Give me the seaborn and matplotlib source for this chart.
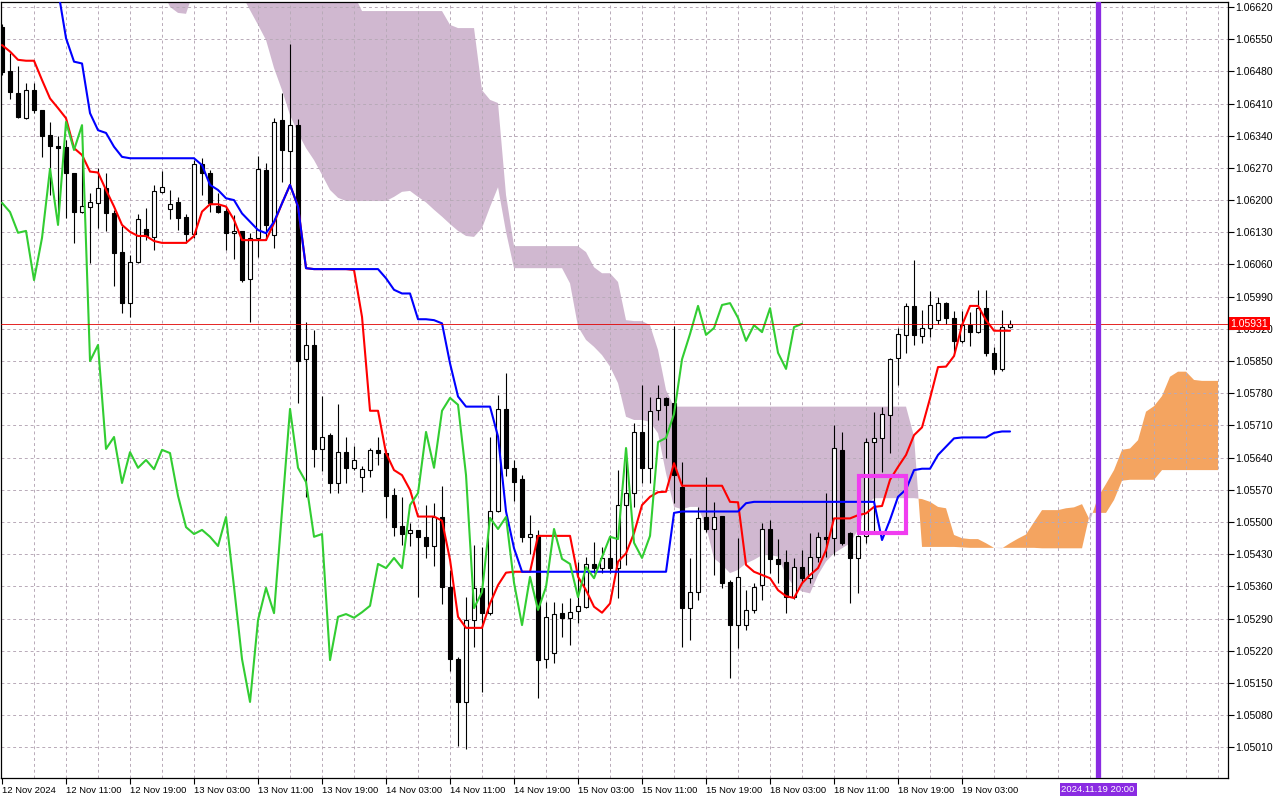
import numpy as np
import matplotlib
matplotlib.use("Agg")
import matplotlib.pyplot as plt
import matplotlib.transforms as mtransforms
from matplotlib.patches import Rectangle
import seaborn as sns

# EURUSD H1 candles, bar 0 = first bar on screen
open_ = [1.06576, 1.06481, 1.06433, 1.06378, 1.06439, 1.06396, 1.06341, 1.06318, 1.06315, 1.06259,
         1.06174, 1.06185, 1.06194, 1.06226, 1.06172, 1.06087, 1.05976, 1.06065, 1.06137, 1.06120,
         1.06218, 1.06181, 1.06196, 1.06163, 1.06126, 1.06279, 1.06259, 1.06187, 1.06176, 1.06129,
         1.06133, 1.06029, 1.06118, 1.06265, 1.06124, 1.06374, 1.06307, 1.06363, 1.05854, 1.05885,
         1.05659, 1.05689, 1.05585, 1.05652, 1.05618, 1.05598, 1.05613, 1.05657, 1.05650, 1.05559,
         1.05492, 1.05476, 1.05483, 1.05468, 1.05448, 1.05511, 1.05359, 1.05202, 1.05109, 1.05287,
         1.05357, 1.05302, 1.05524, 1.05746, 1.05618, 1.05594, 1.05468, 1.05472, 1.05202, 1.05215,
         1.05302, 1.05292, 1.05307, 1.05315, 1.05409, 1.05400, 1.05422, 1.05400, 1.05537, 1.05563,
         1.05696, 1.05618, 1.05744, 1.05770, 1.05759, 1.05576, 1.05313, 1.05348, 1.05511, 1.05485,
         1.05513, 1.05370, 1.05276, 1.05276, 1.05309, 1.05363, 1.05485, 1.05420, 1.05413, 1.05337,
         1.05402, 1.05378, 1.05424, 1.05468, 1.05465, 1.05657, 1.05476, 1.05422, 1.05470, 1.05674,
         1.05683, 1.05733, 1.05857, 1.05907, 1.05970, 1.05904, 1.05922, 1.05939, 1.05976, 1.05944,
         1.05894, 1.05928, 1.05913, 1.05965, 1.05868, 1.05833, 1.05924]
high = [1.06583, 1.06520, 1.06491, 1.06455, 1.06455, 1.06396, 1.06370, 1.06339, 1.06331, 1.06259,
        1.06291, 1.06215, 1.06270, 1.06259, 1.06178, 1.06144, 1.06081, 1.06170, 1.06183, 1.06233,
        1.06263, 1.06222, 1.06207, 1.06170, 1.06287, 1.06291, 1.06265, 1.06215, 1.06185, 1.06168,
        1.06133, 1.06129, 1.06296, 1.06281, 1.06378, 1.06433, 1.06539, 1.06376, 1.05935, 1.05918,
        1.05774, 1.05694, 1.05757, 1.05685, 1.05665, 1.05622, 1.05661, 1.05685, 1.05657, 1.05574,
        1.05554, 1.05498, 1.05483, 1.05537, 1.05542, 1.05578, 1.05396, 1.05207, 1.05337, 1.05450,
        1.05446, 1.05685, 1.05776, 1.05824, 1.05635, 1.05602, 1.05515, 1.05483, 1.05326, 1.05326,
        1.05324, 1.05335, 1.05413, 1.05424, 1.05457, 1.05446, 1.05472, 1.05613, 1.05661, 1.05715,
        1.05798, 1.05772, 1.05798, 1.05772, 1.05926, 1.05631, 1.05422, 1.05533, 1.05598, 1.05544,
        1.05513, 1.05374, 1.05465, 1.05352, 1.05368, 1.05498, 1.05505, 1.05463, 1.05439, 1.05422,
        1.05439, 1.05476, 1.05478, 1.05563, 1.05711, 1.05696, 1.05478, 1.05472, 1.05683, 1.05739,
        1.05750, 1.05857, 1.05922, 1.05976, 1.06070, 1.05961, 1.06002, 1.05989, 1.05978, 1.05959,
        1.05959, 1.05957, 1.06005, 1.06005, 1.05881, 1.05961, 1.05939]
low = [1.06472, 1.06420, 1.06378, 1.06376, 1.06389, 1.06294, 1.06211, 1.06172, 1.06161, 1.06107,
       1.06172, 1.06063, 1.06139, 1.06133, 1.06013, 1.05955, 1.05946, 1.06063, 1.06113, 1.06092,
       1.06215, 1.06159, 1.06135, 1.06107, 1.06118, 1.06211, 1.06174, 1.06172, 1.06092, 1.06072,
       1.06022, 1.05935, 1.06076, 1.06113, 1.06096, 1.06239, 1.06233, 1.05759, 1.05554, 1.05620,
       1.05611, 1.05563, 1.05563, 1.05585, 1.05613, 1.05565, 1.05598, 1.05624, 1.05509, 1.05470,
       1.05450, 1.05448, 1.05337, 1.05422, 1.05405, 1.05322, 1.05176, 1.05013, 1.05007, 1.05228,
       1.05131, 1.05298, 1.05522, 1.05600, 1.05546, 1.05457, 1.05431, 1.05117, 1.05183, 1.05194,
       1.05250, 1.05233, 1.05281, 1.05313, 1.05389, 1.05389, 1.05389, 1.05335, 1.05407, 1.05533,
       1.05585, 1.05585, 1.05722, 1.05639, 1.05542, 1.05228, 1.05244, 1.05331, 1.05478, 1.05385,
       1.05357, 1.05161, 1.05226, 1.05265, 1.05302, 1.05331, 1.05389, 1.05368, 1.05302, 1.05333,
       1.05368, 1.05368, 1.05413, 1.05424, 1.05428, 1.05450, 1.05324, 1.05346, 1.05455, 1.05478,
       1.05609, 1.05650, 1.05798, 1.05868, 1.05885, 1.05889, 1.05902, 1.05931, 1.05931, 1.05870,
       1.05889, 1.05883, 1.05911, 1.05861, 1.05822, 1.05828, 1.05922]
close = [1.06478, 1.06435, 1.06381, 1.06439, 1.06396, 1.06339, 1.06318, 1.06313, 1.06259, 1.06174,
         1.06187, 1.06196, 1.06226, 1.06172, 1.06085, 1.05976, 1.06065, 1.06159, 1.06122, 1.06220,
         1.06229, 1.06192, 1.06161, 1.06126, 1.06279, 1.06259, 1.06194, 1.06174, 1.06129, 1.06133,
         1.06026, 1.06118, 1.06268, 1.06146, 1.06370, 1.06309, 1.06363, 1.05850, 1.05885, 1.05659,
         1.05685, 1.05585, 1.05652, 1.05618, 1.05635, 1.05615, 1.05657, 1.05650, 1.05557, 1.05489,
         1.05474, 1.05483, 1.05468, 1.05448, 1.05511, 1.05359, 1.05202, 1.05109, 1.05287, 1.05357,
         1.05302, 1.05524, 1.05746, 1.05618, 1.05587, 1.05468, 1.05474, 1.05200, 1.05294, 1.05300,
         1.05292, 1.05304, 1.05318, 1.05409, 1.05400, 1.05422, 1.05400, 1.05537, 1.05563, 1.05696,
         1.05618, 1.05742, 1.05770, 1.05755, 1.05602, 1.05313, 1.05348, 1.05509, 1.05485, 1.05511,
         1.05368, 1.05276, 1.05381, 1.05309, 1.05359, 1.05485, 1.05420, 1.05409, 1.05337, 1.05402,
         1.05378, 1.05424, 1.05468, 1.05463, 1.05661, 1.05455, 1.05422, 1.05470, 1.05674, 1.05683,
         1.05735, 1.05854, 1.05909, 1.05970, 1.05907, 1.05922, 1.05972, 1.05976, 1.05944, 1.05894,
         1.05928, 1.05913, 1.05965, 1.05868, 1.05833, 1.05924, 1.05931]

# Ichimoku lines
tenkan = [1.06537, 1.06523, 1.06505, 1.06503, 1.06503, 1.06461, 1.06421, 1.06400, 1.06378, 1.06313,
          1.06298, 1.06262, 1.06260, 1.06222, 1.06186, 1.06146, 1.06131, 1.06122, 1.06122, 1.06111,
          1.06107, 1.06107, 1.06107, 1.06107, 1.06122, 1.06175, 1.06191, 1.06191, 1.06186, 1.06157,
          1.06113, 1.06113, 1.06113, 1.06113, 1.06150, 1.06193, 1.06233, 1.06186, 1.06052, 1.06050,
          1.06050, 1.06050, 1.06050, 1.06050, 1.06048, 1.05946, 1.05742, 1.05742, 1.05650, 1.05613,
          1.05602, 1.05570, 1.05512, 1.05512, 1.05512, 1.05503, 1.05418, 1.05294, 1.05270, 1.05270,
          1.05270, 1.05323, 1.05363, 1.05390, 1.05392, 1.05392, 1.05392, 1.05470, 1.05470, 1.05470,
          1.05470, 1.05470, 1.05381, 1.05352, 1.05316, 1.05303, 1.05323, 1.05414, 1.05432, 1.05476,
          1.05537, 1.05555, 1.05565, 1.05566, 1.05628, 1.05579, 1.05579, 1.05579, 1.05579, 1.05579,
          1.05579, 1.05544, 1.05543, 1.05407, 1.05392, 1.05385, 1.05378, 1.05352, 1.05339, 1.05335,
          1.05367, 1.05385, 1.05400, 1.05439, 1.05508, 1.05508, 1.05508, 1.05515, 1.05519, 1.05533,
          1.05535, 1.05592, 1.05620, 1.05646, 1.05689, 1.05706, 1.05769, 1.05837, 1.05838, 1.05861,
          1.05928, 1.05970, 1.05970, 1.05939, 1.05916, 1.05916, 1.05916]
kijun_start = 7
kijun = [1.06657, 1.06552, 1.06501, 1.06497, 1.06389, 1.06352, 1.06346, 1.06316, 1.06294, 1.06291,
         1.06291, 1.06291, 1.06291, 1.06291, 1.06291, 1.06291, 1.06291, 1.06291, 1.06276, 1.06233,
         1.06222, 1.06204, 1.06200, 1.06171, 1.06153, 1.06135, 1.06128, 1.06153, 1.06193, 1.06233,
         1.06186, 1.06052, 1.06050, 1.06050, 1.06050, 1.06050, 1.06050, 1.06050, 1.06050, 1.06050,
         1.06050, 1.06030, 1.06005, 1.05997, 1.05997, 1.05941, 1.05941, 1.05939, 1.05932, 1.05845,
         1.05773, 1.05751, 1.05751, 1.05751, 1.05751, 1.05686, 1.05523, 1.05443, 1.05392, 1.05392,
         1.05392, 1.05392, 1.05392, 1.05392, 1.05392, 1.05392, 1.05392, 1.05392, 1.05392, 1.05392,
         1.05392, 1.05392, 1.05392, 1.05392, 1.05392, 1.05392, 1.05392, 1.05520, 1.05523, 1.05523,
         1.05523, 1.05523, 1.05523, 1.05523, 1.05523, 1.05523, 1.05541, 1.05544, 1.05544, 1.05544,
         1.05544, 1.05544, 1.05544, 1.05544, 1.05544, 1.05544, 1.05544, 1.05544, 1.05544, 1.05544,
         1.05544, 1.05544, 1.05544, 1.05461, 1.05505, 1.05555, 1.05571, 1.05613, 1.05616, 1.05616,
         1.05646, 1.05664, 1.05682, 1.05684, 1.05684, 1.05684, 1.05684, 1.05694, 1.05697, 1.05697]
chikou_shift = 26

# Senkou spans (already shifted 26 bars forward), from bar 20 to bar 152
span_start = 20
span_a = [1.06657, 1.06620, 1.06607, 1.06605, 1.06657, 1.06678, 1.06678, 1.06678, 1.06678, 1.06678,
          1.06646, 1.06613, 1.06581, 1.06548, 1.06487, 1.06439, 1.06385, 1.06346, 1.06313, 1.06287,
          1.06255, 1.06222, 1.06205, 1.06198, 1.06198, 1.06198, 1.06198, 1.06198, 1.06198, 1.06207,
          1.06218, 1.06220, 1.06207, 1.06195, 1.06179, 1.06164, 1.06148, 1.06133, 1.06122, 1.06120,
          1.06139, 1.06185, 1.06228, 1.06131, 1.06052, 1.06052, 1.06052, 1.06052, 1.06052, 1.06052,
          1.06052, 1.06019, 1.05925, 1.05896, 1.05881, 1.05863, 1.05838, 1.05802, 1.05729, 1.05722,
          1.05722, 1.05718, 1.05693, 1.05606, 1.05533, 1.05528, 1.05533, 1.05533, 1.05490, 1.05421,
          1.05407, 1.05389, 1.05396, 1.05410, 1.05418, 1.05428, 1.05428, 1.05425, 1.05385, 1.05360,
          1.05349, 1.05345, 1.05385, 1.05414, 1.05432, 1.05443, 1.05454, 1.05483, 1.05537, 1.05552,
          1.05552, 1.05552, 1.05552, 1.05552, 1.05552, 1.05550, 1.05544, 1.05533, 1.05530, 1.05472,
          1.05465, 1.05463, 1.05463, 1.05454, 1.05444, 1.05443, 1.05454, 1.05464, 1.05473, 1.05500,
          1.05526, 1.05526, 1.05526, 1.05530, 1.05532, 1.05539, 1.05503, 1.05554, 1.05583, 1.05613,
          1.05657, 1.05660, 1.05678, 1.05740, 1.05752, 1.05774, 1.05816, 1.05827, 1.05827, 1.05809,
          1.05807, 1.05807, 1.05807]
span_b = [1.06722, 1.06722, 1.06722, 1.06722, 1.06722, 1.06722, 1.06722, 1.06722, 1.06722, 1.06722,
          1.06722, 1.06722, 1.06722, 1.06722, 1.06722, 1.06722, 1.06722, 1.06722, 1.06722, 1.06722,
          1.06722, 1.06722, 1.06722, 1.06722, 1.06646, 1.06611, 1.06611, 1.06611, 1.06611, 1.06611,
          1.06611, 1.06611, 1.06611, 1.06611, 1.06611, 1.06611, 1.06581, 1.06574, 1.06574, 1.06574,
          1.06439, 1.06418, 1.06411, 1.06211, 1.06100, 1.06100, 1.06100, 1.06100, 1.06100, 1.06100,
          1.06100, 1.06100, 1.06100, 1.06087, 1.06054, 1.06041, 1.06041, 1.06022, 1.05939, 1.05937,
          1.05937, 1.05928, 1.05874, 1.05787, 1.05751, 1.05751, 1.05751, 1.05751, 1.05751, 1.05751,
          1.05751, 1.05751, 1.05751, 1.05751, 1.05751, 1.05751, 1.05751, 1.05751, 1.05751, 1.05751,
          1.05751, 1.05751, 1.05751, 1.05751, 1.05751, 1.05751, 1.05751, 1.05751, 1.05751, 1.05751,
          1.05751, 1.05751, 1.05751, 1.05751, 1.05686, 1.05446, 1.05446, 1.05446, 1.05446, 1.05446,
          1.05445, 1.05444, 1.05444, 1.05444, 1.05444, 1.05444, 1.05444, 1.05444, 1.05444, 1.05444,
          1.05443, 1.05443, 1.05443, 1.05443, 1.05443, 1.05443, 1.05520, 1.05520, 1.05520, 1.05548,
          1.05590, 1.05592, 1.05592, 1.05592, 1.05592, 1.05613, 1.05613, 1.05613, 1.05613, 1.05613,
          1.05613, 1.05613, 1.05613]

x_tick_bars = [0, 8, 16, 24, 32, 40, 48, 56, 64, 72, 80, 88, 96, 104, 112, 120]
x_tick_labels = ["12 Nov 2024", "12 Nov 11:00", "12 Nov 19:00", "13 Nov 03:00", "13 Nov 11:00",
                 "13 Nov 19:00", "14 Nov 03:00", "14 Nov 11:00", "14 Nov 19:00", "15 Nov 03:00",
                 "15 Nov 11:00", "15 Nov 19:00", "18 Nov 03:00", "18 Nov 11:00", "18 Nov 19:00",
                 "19 Nov 03:00"]
y_ticks = [1.05010, 1.05080, 1.05150, 1.05220, 1.05290, 1.05360, 1.05430, 1.05500, 1.05570,
           1.05640, 1.05710, 1.05780, 1.05850, 1.05920, 1.05990, 1.06060, 1.06130, 1.06200,
           1.06270, 1.06340, 1.06410, 1.06480, 1.06550, 1.06620]
bid_price = 1.05931
marker_bar = 137
marker_label = "2024.11.19 20:00"
box_bars = (107.06, 113.0)
box_prices = (1.05477, 1.05600)

sns.set_theme(style="white")
plt.rcParams["font.family"] = ["Liberation Sans", "DejaVu Sans"]

fig = plt.figure(figsize=(12.8, 8), dpi=100)
ax = fig.add_axes([0.0008, 0.0275, 0.9586, 0.97])

n = len(close)
bars = np.arange(n)
o = np.array(open_)
c = np.array(close)
h = np.array(high)
l = np.array(low)

# cloud
sx = np.arange(span_start, span_start + len(span_a))
sa = np.array(span_a)
sb = np.array(span_b)
ax.fill_between(sx, sa, sb, where=sa <= sb, interpolate=True, color="#D0B8D0", lw=0, zorder=1)
ax.fill_between(sx, sa, sb, where=sa >= sb, interpolate=True, color="#F4A460", lw=0, zorder=1)

# grid
for t in y_ticks:
    ax.axhline(t, color="#B8AAB8", lw=0.7, ls=(0, (3, 3)), zorder=1.5)
for v in range(4, 153, 4):
    ax.axvline(v, color="#B8AAB8", lw=0.7, ls=(0, (3, 3)), zorder=1.5)

# candles
ax.vlines(bars, l, h, color="black", lw=0.8, zorder=3)
up = c >= o
ax.bar(bars[up], (c - o)[up], bottom=o[up], width=0.56, color="white",
       edgecolor="black", linewidth=0.8, zorder=4)
ax.bar(bars[~up], (o - c)[~up], bottom=c[~up], width=0.56, color="black",
       edgecolor="black", linewidth=0.8, zorder=4)

# ichimoku lines
sns.lineplot(x=bars, y=tenkan, color="#FF0000", linewidth=1.5, ax=ax, zorder=5)
kx = np.arange(kijun_start, kijun_start + len(kijun))
sns.lineplot(x=kx, y=kijun, color="#0000FF", linewidth=1.5, ax=ax, zorder=5)
sns.lineplot(x=bars[chikou_shift:] - chikou_shift, y=c[chikou_shift:], color="#32CD32",
             linewidth=1.5, ax=ax, zorder=5)

# bid line, marker line and box
ax.axhline(bid_price, color="#E00000", lw=0.6, zorder=5)
ax.axvline(marker_bar, color="#8A2BE2", lw=3.8, zorder=6)
ax.add_patch(Rectangle((box_bars[0], box_prices[0]), box_bars[1] - box_bars[0],
                       box_prices[1] - box_prices[0], fill=False, edgecolor="#F03CF0",
                       linewidth=3, zorder=7))

ax.set_xlim(-0.125, 153.25)
ax.set_ylim(1.049436, 1.066307)

ax.yaxis.tick_right()
ax.set_yticks(y_ticks)
ax.set_yticklabels([f"{t:.5f}" for t in y_ticks])
ax.set_xticks(x_tick_bars)
ax.set_xticklabels(x_tick_labels)
for lbl in ax.get_xticklabels():
    lbl.set_ha("left")
ax.tick_params(axis="both", which="major", direction="out", length=4, width=0.8,
               color="black", labelcolor="black", bottom=True, right=True, left=False)
ax.tick_params(axis="x", labelsize=6.8, pad=1.5)
ax.tick_params(axis="y", labelsize=7.5, pad=1.5)
ax.set_xlabel("")
ax.set_ylabel("")
for sp in ax.spines.values():
    sp.set_color("black")
    sp.set_linewidth(0.9)

# price label on the axis
trans_y = mtransforms.blended_transform_factory(ax.transAxes, ax.transData)
ax.text(1.002, bid_price, "1.05931", transform=trans_y, ha="left", va="center",
        fontsize=7.5, color="white", zorder=10, clip_on=False,
        bbox=dict(boxstyle="square,pad=0.15", facecolor="#FF0000", edgecolor="none"))

trans_x = mtransforms.blended_transform_factory(ax.transData, ax.transAxes)
ax.text(marker_bar, -0.0145, marker_label, transform=trans_x, ha="center", va="center",
        fontsize=6.8, color="white", zorder=10, clip_on=False,
        bbox=dict(boxstyle="square,pad=0.2", facecolor="#8A2BE2", edgecolor="none"))

fig.savefig("out.png", dpi=100, facecolor="white")
